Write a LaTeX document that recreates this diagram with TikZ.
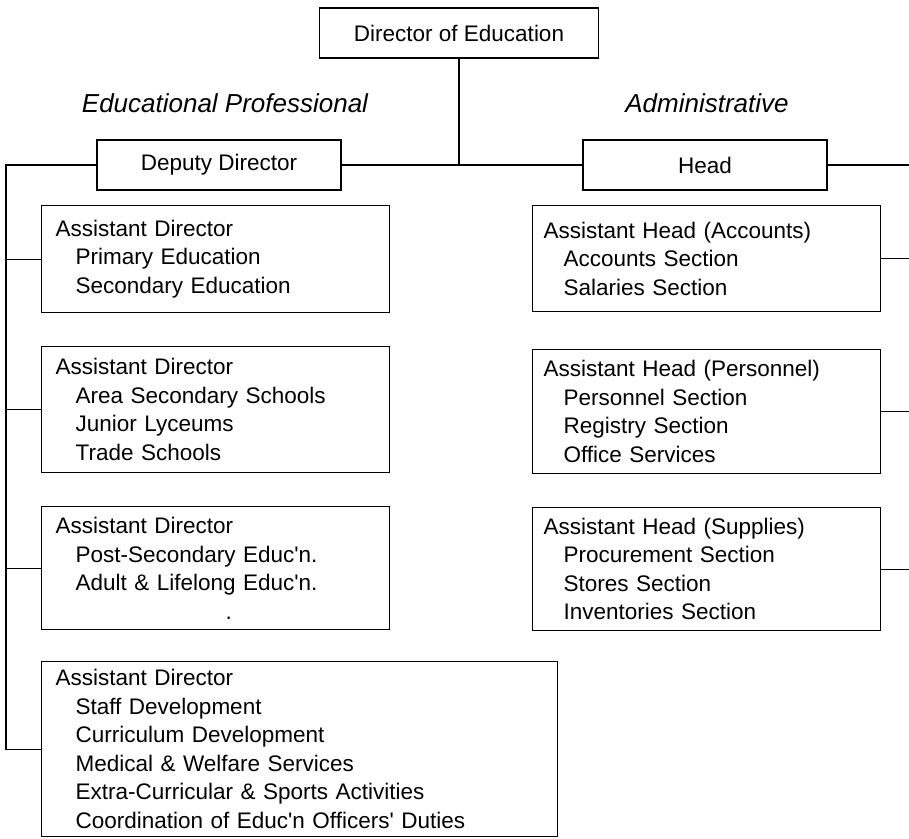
\documentclass[tikz,border=0pt]{standalone}
\usepackage{fontspec}
\setmainfont{Liberation Sans}
\newcommand{\sectind}{\hspace*{20pt}}
\newcommand{\apos}{\textquotesingle}
\begin{document}
\begin{tikzpicture}[x=1pt,y=-1pt,
  every node/.style={font=\fontsize{22.5}{28.5}\selectfont},
  link/.style={line width=1.2pt},
  unit/.style={draw, line width=1.2pt, rectangle, inner sep=0pt},
  titlebox/.style={unit, minimum height=50pt},
  listbox/.style={unit, anchor=north west, align=left, inner ysep=0pt},
  leftbox/.style={listbox, inner xsep=14pt},
  rightbox/.style={listbox, inner xsep=11pt, text width=326pt},
  grouplabel/.style={font=\fontsize{26}{30}\selectfont\itshape}]
\useasboundingbox (0,0) rectangle (909,838);

% top of the hierarchy
\node[titlebox, minimum width=279pt] (dir) at (459,33) {Director of Education};
\node[grouplabel] (edulabel) at (225,103) {Educational Professional};
\node[grouplabel] (admlabel) at (707,103) {Administrative};
\node[titlebox, minimum width=244pt] (dep) at (219,165) {Deputy Director};
\node[titlebox, minimum width=244pt] (head) at (705,165) {Head};

% educational / professional branch
\node[leftbox, text width=320pt, minimum height=107pt] (ad1) at (41,205)
  {Assistant Director\\ \sectind Primary Education\\ \sectind Secondary Education};
\node[leftbox, text width=320pt, minimum height=126pt] (ad2) at (41,346)
  {Assistant Director\\ \sectind Area Secondary Schools\\ \sectind Junior Lyceums\\ \sectind Trade Schools};
\node[leftbox, text width=320pt, minimum height=123pt] (ad3) at (41,506)
  {Assistant Director\\ \sectind Post-Secondary Educ\apos n.\\ \sectind Adult \& Lifelong Educ\apos n.\\ \hspace*{170pt}.};
\node[leftbox, text width=488pt, minimum height=175pt] (ad4) at (41,661)
  {Assistant Director\\ \sectind Staff Development\\ \sectind Curriculum Development\\ \sectind Medical \& Welfare Services\\ \sectind Extra-Curricular \& Sports Activities\\ \sectind Coordination of Educ\apos n Officers\apos{} Duties};

% administrative branch
\node[rightbox, minimum height=106pt] (ah1) at (532,205)
  {Assistant Head (Accounts)\\ \sectind Accounts Section\\ \sectind Salaries Section};
\node[rightbox, minimum height=124pt] (ah2) at (532,349)
  {Assistant Head (Personnel)\\ \sectind Personnel Section\\ \sectind Registry Section\\ \sectind Office Services};
\node[rightbox, minimum height=123pt] (ah3) at (532,507)
  {Assistant Head (Supplies)\\ \sectind Procurement Section\\ \sectind Stores Section\\ \sectind Inventories Section};

% connectors
\coordinate (spineL) at (6,165);
\coordinate (spineR) at (909,165);
\draw[link] (dir.south) -- (dir.south |- dep.east);
\draw[link] (dep.east) -- (head.west);
\draw[link] (dep.west) -- (dep.west -| spineL) |- (ad4.west);
\foreach \b in {ad1,ad2,ad3}
  \draw[link] (\b.west) -- (\b.west -| spineL);
\foreach \b in {head,ah1,ah2,ah3}
  \draw[link] (\b.east) -- (\b.east -| spineR);
\end{tikzpicture}
\end{document}
